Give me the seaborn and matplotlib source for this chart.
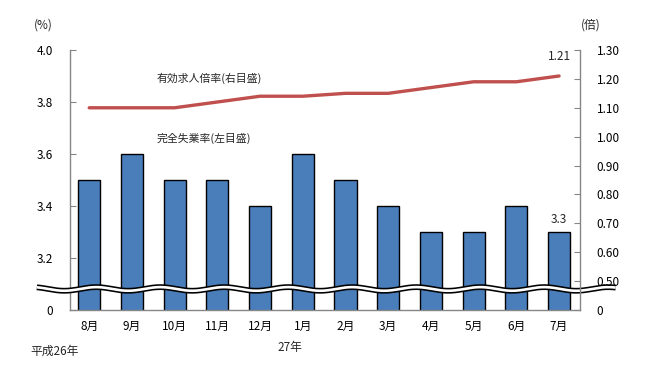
import numpy as np
import pandas as pd
import matplotlib
matplotlib.use("Agg")
import matplotlib.pyplot as plt
import seaborn as sns

months = ["8月", "9月", "10月", "11月", "12月", "1月", "2月", "3月", "4月", "5月", "6月", "7月"]
unemployment = [3.5, 3.6, 3.5, 3.5, 3.4, 3.6, 3.5, 3.4, 3.3, 3.3, 3.4, 3.3]
job_ratio = [1.10, 1.10, 1.10, 1.12, 1.14, 1.14, 1.15, 1.15, 1.17, 1.19, 1.19, 1.21]
left_ticks = [3.0, 3.2, 3.4, 3.6, 3.8, 4.0]
left_labels = ["0", "3.2", "3.4", "3.6", "3.8", "4.0"]
right_ticks = [0.4, 0.5, 0.6, 0.7, 0.8, 0.9, 1.0, 1.1, 1.2, 1.3]
right_labels = ["0", "0.50", "0.60", "0.70", "0.80", "0.90", "1.00", "1.10", "1.20", "1.30"]

sns.set_style("white")
plt.rcParams["font.family"] = ["Noto Sans CJK JP", "DejaVu Sans"]

df = pd.DataFrame({"month": months, "rate": unemployment, "pos": np.arange(len(months)), "ratio": job_ratio})

fig = plt.figure(figsize=(6.46, 3.72), dpi=100)
ax = fig.add_axes([70/646, 1-310/372, 510/646, 260/372])

sns.barplot(data=df, x="month", y="rate", ax=ax, color="#4a7ebb", width=0.52,
            edgecolor="black", linewidth=1.0, saturation=1)
ax.set_xlim(-0.45, 11.49)
ax.set_ylim(3.0, 4.0)
ax.set_yticks(left_ticks)
ax.set_yticklabels(left_labels)
ax.set_xlabel("")
ax.set_ylabel("")

ax2 = ax.twinx()
sns.lineplot(data=df, x="pos", y="ratio", ax=ax2, color="#c0504d", linewidth=2.4)
ax2.set_ylim(0.4, 1.3)
ax2.set_yticks(right_ticks)
ax2.set_yticklabels(right_labels)
ax2.set_xlim(-0.45, 11.49)
ax2.set_xlabel("")
ax2.set_ylabel("")

for a in (ax, ax2):
    for s in a.spines.values():
        s.set_visible(False)
    a.tick_params(labelsize=8.5, colors="black", length=4, width=0.8)
ax.spines["left"].set_visible(True)
ax.spines["bottom"].set_visible(True)
ax2.spines["right"].set_visible(True)
for s in (ax.spines["left"], ax.spines["bottom"], ax2.spines["right"]):
    s.set_color("#868686")
    s.set_linewidth(1.0)
ax.tick_params(axis="y", direction="in", color="#868686", pad=12)
ax2.tick_params(axis="y", direction="in", color="#868686", pad=12)
ax.tick_params(axis="x", length=0, pad=7, labelsize=8.5)
ax2.tick_params(axis="x", length=0)

# wavy break
xs = np.linspace(-0.065, 1.07, 600)
ys = 0.081 + 0.007 * np.sin(2 * np.pi * (xs - 0.02) / 0.1255)
ax.plot(xs, ys, transform=ax.transAxes, color="black", lw=4.2, clip_on=False, zorder=5,
        solid_capstyle="butt")
ax.plot(xs, ys, transform=ax.transAxes, color="white", lw=1.9, clip_on=False, zorder=6,
        solid_capstyle="butt")

# text
fs = 8.5
fig.text(43/646, 1-25/372, "(%)", fontsize=fs, ha="center", va="center")
fig.text(591/646, 1-25/372, "(倍)", fontsize=fs, ha="center", va="center")
fig.text(55/646, 1-351/372, "平成26年", fontsize=8.5, ha="center", va="center")
fig.text(290/646, 1-348/372, "27年", fontsize=8.5, ha="center", va="center")
fig.text(157/646, 1-78/372, "有効求人倍率(右目盛)", fontsize=7.8, ha="left", va="center")
fig.text(157/646, 1-138/372, "完全失業率(左目盛)", fontsize=7.8, ha="left", va="center")
ax2.annotate(f"{job_ratio[-1]:.2f}", (11, job_ratio[-1]), xytext=(0, 14), textcoords="offset points",
             ha="center", va="center", fontsize=fs)
ax.annotate(f"{unemployment[-1]:.1f}", (11, unemployment[-1]), xytext=(0, 9), textcoords="offset points",
            ha="center", va="center", fontsize=fs)

fig.savefig("out.png", dpi=100)
